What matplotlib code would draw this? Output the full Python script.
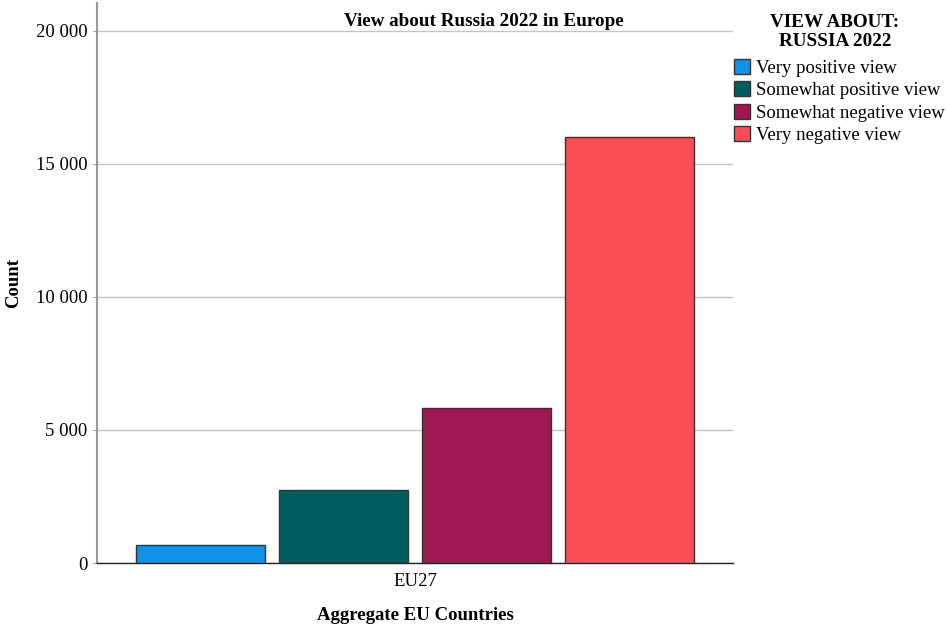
import matplotlib.pyplot as plt
from matplotlib.ticker import FuncFormatter

# counts
categories = ['Very positive view', 'Somewhat positive view',
              'Somewhat negative view', 'Very negative view']
counts = [677, 2729, 5830, 16030]
group = 'EU27'
colors = ['#1192e8', '#005d5d', '#9f1853', '#fa4d56']

plt.rcParams['font.family'] = ['Liberation Serif', 'DejaVu Serif']

fig = plt.figure(figsize=(9.46, 6.26), dpi=100)
ax = fig.add_axes([97 / 946, 1 - 563 / 626, (733 - 97) / 946, (563 - 3) / 626])

offsets = [-1.5, -0.5, 0.5, 1.5]
for off, cat, val, col in zip(offsets, categories, counts, colors):
    ax.bar(off, val, width=0.9, color=col, edgecolor='#333333',
           linewidth=1.0, label=cat, zorder=3)

ax.set_xlim(-2.22, 2.22)
ax.set_ylim(0, 21050)
ax.set_yticks([0, 5000, 10000, 15000, 20000])
ax.yaxis.set_major_formatter(FuncFormatter(lambda v, p: f'{int(v):,}'.replace(',', ' ')))
ax.set_xticks([0])
ax.set_xticklabels([group])
ax.tick_params(axis='x', length=0, labelsize=13.5, pad=7)
ax.tick_params(axis='y', length=3, labelsize=13.5, color='#999999', pad=4)
ax.grid(axis='y', color='#c4c4c4', linewidth=1.0, zorder=0)

for s in ['top', 'right']:
    ax.spines[s].set_visible(False)
ax.spines['left'].set_color('#999999')
ax.spines['left'].set_linewidth(1.5)
ax.spines['bottom'].set_color('#222222')
ax.spines['bottom'].set_linewidth(1.0)

# axis titles placed in figure coords
fig.text(14 / 946, 1 - 283 / 626, 'Count', rotation=90, ha='center', va='center',
         fontsize=13.5, fontweight='bold')
fig.text(415 / 946, 1 - 615 / 626, 'Aggregate EU Countries', ha='center', va='center',
         fontsize=13.5, fontweight='bold')

fig.text(484 / 946, 1 - 22 / 626, 'View about Russia 2022 in Europe',
         ha='center', va='center', fontsize=13.8, fontweight='bold')

fig.text(835 / 946, 1 - 32 / 626, 'VIEW ABOUT:\nRUSSIA 2022', ha='center', va='center',
         multialignment='center', fontsize=13.8, fontweight='bold', linespacing=1.15)

leg = fig.legend(loc='upper left', bbox_to_anchor=(734 / 946, 1 - 59 / 626),
                 fontsize=13.5, frameon=False,
                 handlelength=0.85, handleheight=0.85, handletextpad=0.3,
                 labelspacing=0.24, borderpad=0.0, borderaxespad=0.0)

fig.savefig('out.png', dpi=100)
